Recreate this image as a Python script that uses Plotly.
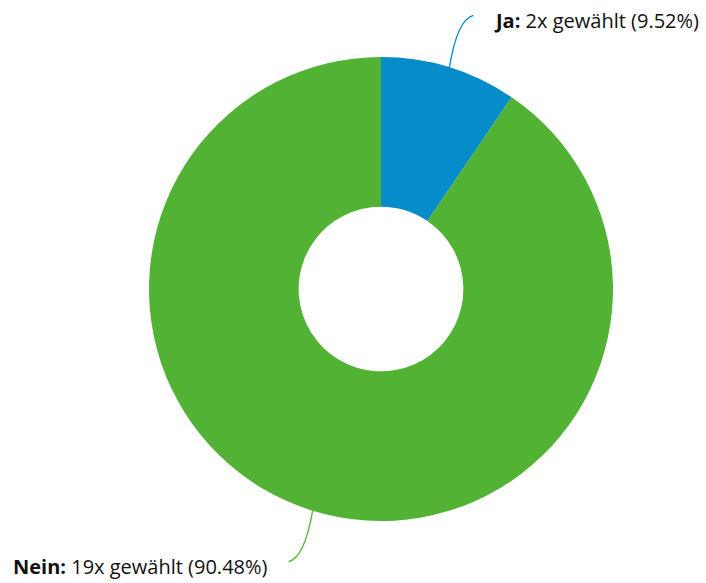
import math
import plotly.graph_objects as go

labels = ["Ja", "Nein"]
counts = [2, 19]
colors = ["#068CC8", "#52B234"]

W, H = 706, 583
cx, cy, R = 381, 289, 232
hole = 0.355

total = sum(counts)
pcts = [c / total * 100 for c in counts]

fig = go.Figure(go.Pie(
    labels=labels, values=counts, hole=hole, sort=False, direction="clockwise",
    rotation=0, marker=dict(colors=colors, line=dict(width=0)),
    textinfo="none", hoverinfo="label+value+percent", showlegend=False,
    domain=dict(x=[(cx - R) / W, (cx + R) / W], y=[1 - (cy + R) / H, 1 - (cy - R) / H]),
))

def px(x):
    return x / W

def py(y):
    return 1 - y / H

shapes = []
annotations = []
cum = 0
for i, (lab, c, p) in enumerate(zip(labels, counts, pcts)):
    mid = (cum + c / 2) / total * 2 * math.pi
    cum += c
    sx = cx + R * math.sin(mid)
    sy = cy - R * math.cos(mid)
    right = math.sin(mid) >= 0
    if right:
        ex, ey = sx + 24, sy - 52
        qx, qy = sx + 8, sy - 48
        tx = ex + 19
        anchor = "left"
    else:
        ex, ey = sx - 24, sy + 51
        qx, qy = sx - 8, sy + 47
        tx = ex - 19
        anchor = "right"
    path = f"M {px(sx)},{py(sy)} Q {px(qx)},{py(qy)} {px(ex)},{py(ey)}"
    shapes.append(dict(type="path", path=path, xref="paper", yref="paper",
                       line=dict(color=colors[i], width=1.3)))
    text = f"<b>{lab}:</b> {c}x gewählt ({p:.2f}%)"
    annotations.append(dict(x=px(tx), y=py(ey + 5), xref="paper", yref="paper",
                            text=text, showarrow=False, xanchor=anchor, yanchor="middle",
                            font=dict(family="Open Sans", size=20, color="#111111")))

fig.update_layout(
    width=W, height=H, margin=dict(l=0, r=0, t=0, b=0),
    paper_bgcolor="white", plot_bgcolor="white",
    shapes=shapes, annotations=annotations,
)

fig.write_html("out.html", config={"displayModeBar": False},
               post_script="document.body.style.margin='0';document.body.style.overflow='hidden';")
